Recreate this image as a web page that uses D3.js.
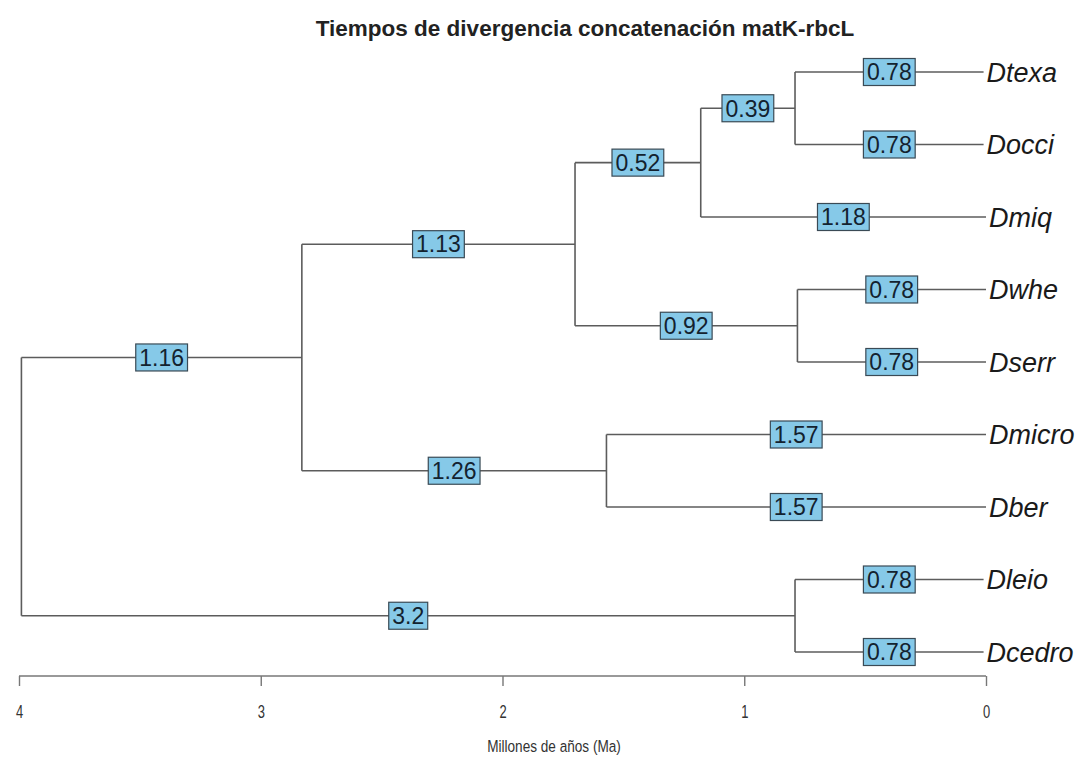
<!DOCTYPE html>
<html>
<head>
<meta charset="utf-8">
<script src="https://cdn.jsdelivr.net/npm/d3@7"></script>
<style>
  body { margin: 0; background: #fff; }
  svg { display: block; }
</style>
</head>
<body>
<div id="chart"></div>
<script>
// tree: every edge is child -> parent with its branch length (Ma)
const nodeIds   = ["root", "A", "L", "B", "M", "C", "W", "T",
                   "Dtexa", "Docci", "Dmiq", "Dwhe", "Dserr", "Dmicro", "Dber", "Dleio", "Dcedro"];
const nodeParent = [null, "root", "root", "A", "A", "B", "B", "C",
                   "T", "T", "C", "W", "W", "M", "M", "L", "L"];
const branchLen = [0, 1.16, 3.2, 1.13, 1.26, 0.52, 0.92, 0.39,
                   0.78, 0.78, 1.18, 0.78, 0.78, 1.57, 1.57, 0.78, 0.78];
const tipOrder  = ["Dtexa", "Docci", "Dmiq", "Dwhe", "Dserr", "Dmicro", "Dber", "Dleio", "Dcedro"];
const ticks     = [4, 3, 2, 1, 0];

const width = 1079, height = 765;

const svg = d3.select("#chart").append("svg")
  .attr("width", width)
  .attr("height", height);

const x = d3.scaleLinear().domain([4, 0]).range([19, 986]);
const y = d3.scaleLinear().domain([0, tipOrder.length - 1]).range([72, 652]);

const table = nodeIds.map((id, i) => ({ id: id, parent: nodeParent[i], len: branchLen[i] }));
const root = d3.stratify().id(d => d.id).parentId(d => d.parent)(table);

// depth from root
root.each(n => { n.depth2 = n.parent ? n.parent.depth2 + n.data.len : 0; });
const maxDepth = d3.max(root.leaves(), n => n.depth2);
root.eachAfter(n => {
  n.px = x(maxDepth - n.depth2);
  if (!n.children) n.py = y(tipOrder.indexOf(n.id));
  else {
    // ape puts the node halfway between first and last child
    const ys = n.children.map(c => c.py);
    n.py = (d3.min(ys) + d3.max(ys)) / 2;
  }
});
root.each(n => { if (n.children) n.children.sort((a, b) => a.py - b.py); });

const lineCol = "#5c5c5c";

// vertical connectors
svg.append("g").selectAll("line")
  .data(root.descendants().filter(n => n.children))
  .enter().append("line")
    .attr("x1", d => d.px).attr("x2", d => d.px)
    .attr("y1", d => d.children[0].py)
    .attr("y2", d => d.children[d.children.length - 1].py)
    .attr("stroke", lineCol)
    .attr("stroke-width", 1.6);

// horizontal branches
const edges = root.descendants().filter(n => n.parent);
svg.append("g").selectAll("line")
  .data(edges)
  .enter().append("line")
    .attr("x1", d => d.parent.px).attr("x2", d => d.px)
    .attr("y1", d => d.py).attr("y2", d => d.py)
    .attr("stroke", lineCol)
    .attr("stroke-width", 1.6);

// branch length labels in boxes
const lab = svg.append("g").selectAll("g")
  .data(edges)
  .enter().append("g")
    .attr("transform", d => "translate(" + ((d.parent.px + d.px) / 2) + "," + d.py + ")");

lab.append("text")
  .attr("text-anchor", "middle")
  .attr("dy", "0.36em")
  .style("font-family", "Arial, 'Liberation Sans', sans-serif")
  .style("font-size", "23px")
  .style("fill", "#13222f")
  .text(d => String(d.data.len));

lab.each(function() {
  const g = d3.select(this);
  const bb = g.select("text").node().getBBox();
  const w = bb.width + 7, h = 27;
  g.insert("rect", "text")
    .attr("x", -w / 2).attr("y", -h / 2)
    .attr("width", w).attr("height", h)
    .attr("fill", "#86c9e8")
    .attr("stroke", "#3a4a55")
    .attr("stroke-width", 1.2);
});

// tip labels
svg.append("g").selectAll("text")
  .data(root.leaves())
  .enter().append("text")
    .attr("x", d => d.px + 3)
    .attr("y", d => d.py)
    .attr("dy", "0.36em")
    .style("font-family", "Arial, 'Liberation Sans', sans-serif")
    .style("font-style", "italic")
    .style("font-size", "27px")
    .style("fill", "#1a1a1a")
    .text(d => d.id);

// time axis
const axis = svg.append("g")
  .attr("transform", "translate(0,676)")
  .call(d3.axisBottom(x).tickValues(ticks).tickFormat(d3.format("d")).tickSize(10).tickPadding(14));
axis.select(".domain").attr("stroke", "#777").attr("stroke-width", 1.6)
  .attr("d", "M" + x(4) + ",0H" + x(0));
axis.selectAll(".tick line").attr("stroke", "#777").attr("stroke-width", 1.4);
// narrow, tall digits like the original
axis.selectAll(".tick text")
  .attr("y", 0).attr("dy", 0)
  .attr("transform", "translate(0,42) scale(0.72,1)")
  .style("font-family", "Arial, 'Liberation Sans', sans-serif")
  .style("font-size", "18px")
  .style("fill", "#333");

// title and axis name
svg.append("text")
  .attr("x", 585).attr("y", 36)
  .attr("text-anchor", "middle")
  .style("font-family", "Arial, 'Liberation Sans', sans-serif")
  .style("font-weight", "bold")
  .style("font-size", "22.5px")
  .style("fill", "#222")
  .text("Tiempos de divergencia concatenación matK-rbcL");

svg.append("text")
  .attr("transform", "translate(554,752) scale(0.8,1)")
  .attr("text-anchor", "middle")
  .style("font-family", "Arial, 'Liberation Sans', sans-serif")
  .style("font-size", "17px")
  .style("fill", "#333")
  .text("Millones de años (Ma)");
</script>
</body>
</html>
